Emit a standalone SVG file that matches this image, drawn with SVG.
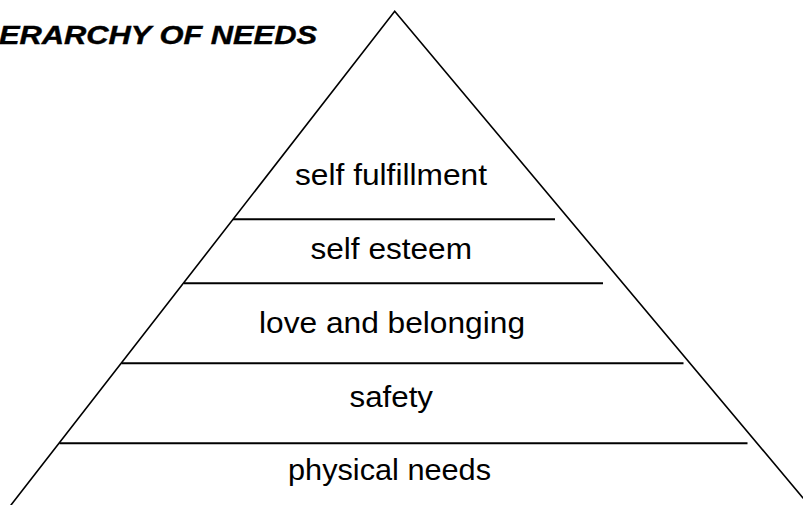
<svg xmlns="http://www.w3.org/2000/svg" width="803" height="505" viewBox="0 0 803 505">
  <style>
    .edge { fill: none; stroke: #000; stroke-width: 1.6; stroke-linecap: round; stroke-linejoin: miter; }
    .divider { stroke: #000; stroke-width: 2; }
    .label { font-family: "Liberation Sans", Arial, sans-serif; font-size: 29px; fill: #000; }
    .title { font-family: "Liberation Sans", Arial, sans-serif; font-size: 25px; font-weight: bold; font-style: italic; fill: #000; stroke: #000; stroke-width: 0.4; }
  </style>
  <rect width="803" height="505" fill="#fff"/>

  <text class="title" x="-1" y="44" textLength="318" lengthAdjust="spacingAndGlyphs">ERARCHY OF NEEDS</text>

  <!-- pyramid outline -->
  <g id="connectors">
    <polyline class="edge" points="11,505 394.7,11.3 803,497.9"/>
  </g>

  <!-- tiers, top to bottom -->
  <g id="tier-self-fulfillment">
    <text class="label" x="295" y="185" textLength="192" lengthAdjust="spacingAndGlyphs">self fulfillment</text>
    <line class="divider" x1="233" y1="219.3" x2="555" y2="219.3"/>
  </g>
  <g id="tier-self-esteem">
    <text class="label" x="310.5" y="259" textLength="161.5" lengthAdjust="spacingAndGlyphs">self esteem</text>
    <line class="divider" x1="184" y1="283.3" x2="603" y2="283.3"/>
  </g>
  <g id="tier-love-and-belonging">
    <text class="label" x="259" y="333" textLength="266" lengthAdjust="spacingAndGlyphs">love and belonging</text>
    <line class="divider" x1="121.5" y1="363.2" x2="683.5" y2="363.2"/>
  </g>
  <g id="tier-safety">
    <text class="label" x="349.5" y="407" textLength="83.5" lengthAdjust="spacingAndGlyphs">safety</text>
    <line class="divider" x1="59.5" y1="443.2" x2="747.5" y2="443.2"/>
  </g>
  <g id="tier-physical-needs">
    <text class="label" x="288" y="480" textLength="203" lengthAdjust="spacingAndGlyphs">physical needs</text>
  </g>
</svg>
